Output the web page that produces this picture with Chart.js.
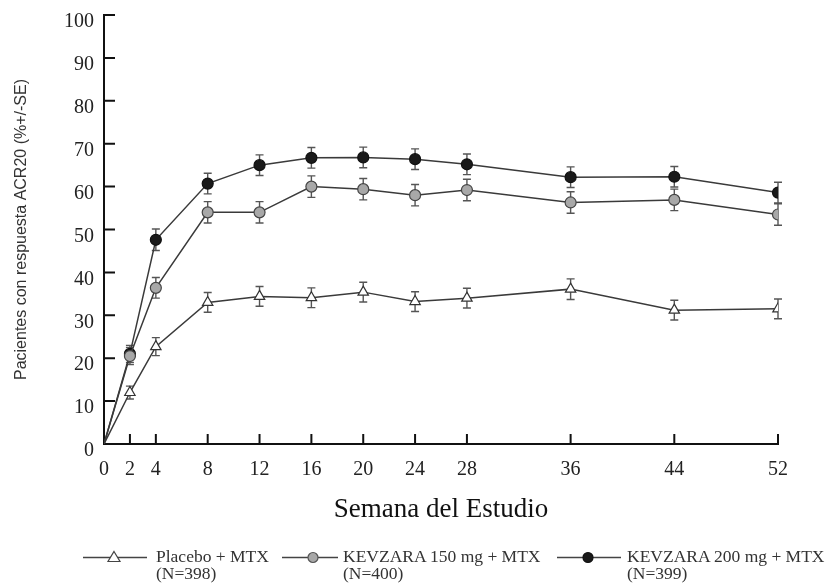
<!DOCTYPE html>
<html>
<head>
<meta charset="utf-8">
<script src="https://cdn.jsdelivr.net/npm/chart.js@4/dist/chart.umd.min.js"></script>
<style>
  html, body { margin: 0; padding: 0; background: #fff; }
  #wrap { position: relative; width: 830px; height: 588px; }
  canvas { position: absolute; left: 0; top: 0; }
  .leg { position: absolute; top: 548px; font-family: "Liberation Serif", "Times New Roman", serif; font-size: 17.5px; color: #333; line-height: 17px; white-space: nowrap; }
  .sym { position: absolute; top: 546px; }
</style>
</head>
<body>
<div id="wrap">
  <canvas id="c" width="830" height="588"></canvas>
  <svg class="sym" style="left:83px" width="64" height="22"><line x1="0" y1="11.5" x2="64" y2="11.5" stroke="#444" stroke-width="1.6"/><polygon points="31,5.5 37,15.5 25,15.5" fill="#fff" stroke="#444" stroke-width="1.2"/></svg>
  <div class="leg" style="left:156px">Placebo + MTX<br>(N=398)</div>
  <svg class="sym" style="left:282px" width="56" height="22"><line x1="0" y1="11.5" x2="56" y2="11.5" stroke="#444" stroke-width="1.6"/><circle cx="31" cy="11.5" r="5" fill="#a8a8a8" stroke="#555" stroke-width="1.2"/></svg>
  <div class="leg" style="left:343px">KEVZARA 150 mg + MTX<br>(N=400)</div>
  <svg class="sym" style="left:557px" width="64" height="22"><line x1="0" y1="11.5" x2="64" y2="11.5" stroke="#444" stroke-width="1.6"/><circle cx="31" cy="11.5" r="5" fill="#1a1a1a" stroke="#111" stroke-width="1.2"/></svg>
  <div class="leg" style="left:627px">KEVZARA 200 mg + MTX<br>(N=399)</div>
</div>
<script>
const weeks = [0, 2, 4, 8, 12, 16, 20, 24, 28, 36, 44, 52];
const xTickValues = [0, 2, 4, 8, 12, 16, 20, 24, 28, 36, 44, 52];
const yTickValues = [0, 10, 20, 30, 40, 50, 60, 70, 80, 90, 100];

const placebo   = [0, 12.0, 22.7, 33.0, 34.4, 34.1, 35.4, 33.2, 34.0, 36.1, 31.2, 31.5];
const placeboSE = [0, 1.5, 2.1, 2.3, 2.3, 2.3, 2.3, 2.3, 2.3, 2.4, 2.3, 2.3];
const kev150    = [0, 20.5, 36.4, 54.0, 54.0, 60.0, 59.4, 58.0, 59.2, 56.3, 56.9, 53.5];
const kev150SE  = [0, 2.0, 2.4, 2.5, 2.5, 2.5, 2.5, 2.5, 2.5, 2.5, 2.5, 2.5];
const kev200    = [0, 21.0, 47.6, 60.7, 65.0, 66.7, 66.8, 66.4, 65.2, 62.2, 62.3, 58.6];
const kev200SE  = [0, 2.0, 2.5, 2.4, 2.4, 2.4, 2.4, 2.4, 2.4, 2.4, 2.4, 2.4];

const seriesNames = ['Placebo + MTX (N=398)', 'KEVZARA 150 mg + MTX (N=400)', 'KEVZARA 200 mg + MTX (N=399)'];

function pts(vals) { return weeks.map((w, i) => ({ x: w, y: vals[i] })); }
const triR = ctx => ctx.dataIndex === 0 ? 0 : 6;
const circR = ctx => ctx.dataIndex === 0 ? 0 : 5.5;

const errorBars = {
  id: 'errorBars',
  beforeDatasetsDraw(chart) {
    const ctx = chart.ctx;
    const xs = chart.scales.x, ys = chart.scales.y;
    const ses = [placeboSE, kev150SE, kev200SE];
    const vals = [placebo, kev150, kev200];
    ctx.save();
    ctx.strokeStyle = '#555';
    ctx.lineWidth = 1.4;
    for (let d = 2; d >= 0; d--) {
      weeks.forEach((w, i) => {
        if (i === 0) return;
        const px = xs.getPixelForValue(w);
        const top = ys.getPixelForValue(vals[d][i] + ses[d][i]);
        const bot = ys.getPixelForValue(vals[d][i] - ses[d][i]);
        ctx.beginPath();
        ctx.moveTo(px, top); ctx.lineTo(px, bot);
        ctx.moveTo(px - 4, top); ctx.lineTo(px + 4, top);
        ctx.moveTo(px - 4, bot); ctx.lineTo(px + 4, bot);
        ctx.stroke();
      });
    }
    ctx.restore();
  }
};

const innerTicks = {
  id: 'innerTicks',
  beforeDatasetsDraw(chart) {
    const ctx = chart.ctx;
    const xs = chart.scales.x, ys = chart.scales.y;
    const a = chart.chartArea;
    ctx.save();
    ctx.strokeStyle = '#111';
    ctx.lineWidth = 2;
    ctx.beginPath();
    xTickValues.forEach(v => {
      if (v === 0) return;
      const px = xs.getPixelForValue(v);
      ctx.moveTo(px, a.bottom); ctx.lineTo(px, a.bottom - 10);
    });
    yTickValues.forEach(v => {
      if (v === 0) return;
      const py = ys.getPixelForValue(v);
      ctx.moveTo(a.left, py); ctx.lineTo(a.left + 11, py);
    });
    ctx.stroke();
    ctx.restore();
  }
};

new Chart(document.getElementById('c'), {
  type: 'line',
  data: {
    datasets: [
      { label: seriesNames[0], data: pts(placebo), borderColor: '#3a3a3a', borderWidth: 1.5,
        pointStyle: 'triangle', pointRadius: triR, pointBackgroundColor: '#fff', pointBorderColor: '#333', pointBorderWidth: 1.2 },
      { label: seriesNames[1], data: pts(kev150), borderColor: '#3a3a3a', borderWidth: 1.5,
        pointStyle: 'circle', pointRadius: circR, pointBackgroundColor: '#a8a8a8', pointBorderColor: '#444', pointBorderWidth: 1.2 },
      { label: seriesNames[2], data: pts(kev200), borderColor: '#3a3a3a', borderWidth: 1.5,
        pointStyle: 'circle', pointRadius: circR, pointBackgroundColor: '#1a1a1a', pointBorderColor: '#111', pointBorderWidth: 1.2 }
    ]
  },
  options: {
    responsive: false,
    animation: false,
    layout: { padding: { top: 15, right: 52, left: 0, bottom: 0 } },
    plugins: { legend: { display: false }, tooltip: { enabled: false } },
    scales: {
      x: {
        type: 'linear', min: 0, max: 52,
        afterBuildTicks: s => { s.ticks = xTickValues.map(v => ({ value: v })); },
        afterFit: s => { s.height = 144; s.paddingLeft = 0; s.paddingRight = 0; },
        grid: { drawOnChartArea: false, drawTicks: false },
        border: { display: true, color: '#111', width: 2 },
        ticks: { autoSkip: false, maxRotation: 0, padding: 14, color: '#222',
                 font: { family: 'Liberation Serif', size: 20 } },
        title: { display: true, text: 'Semana del Estudio', color: '#111',
                 font: { family: 'Liberation Serif', size: 27 }, padding: { top: 0, bottom: 62 } }
      },
      y: {
        min: 0, max: 100,
        afterBuildTicks: s => { s.ticks = yTickValues.map(v => ({ value: v })); },
        afterFit: s => { s.width = 104; s.paddingTop = 0; s.paddingBottom = 0; },
        grid: { drawOnChartArea: false, drawTicks: false },
        border: { display: true, color: '#111', width: 2 },
        ticks: { padding: 10, labelOffset: 7, color: '#222', font: { family: 'Liberation Serif', size: 20 } },
        title: { display: true, text: 'Pacientes con respuesta ACR20 (%+/-SE)', color: '#333',
                 font: { family: 'Liberation Sans', size: 16 }, padding: { top: 12, bottom: 0 } }
      }
    }
  },
  plugins: [errorBars, innerTicks]
});
</script>
</body>
</html>
